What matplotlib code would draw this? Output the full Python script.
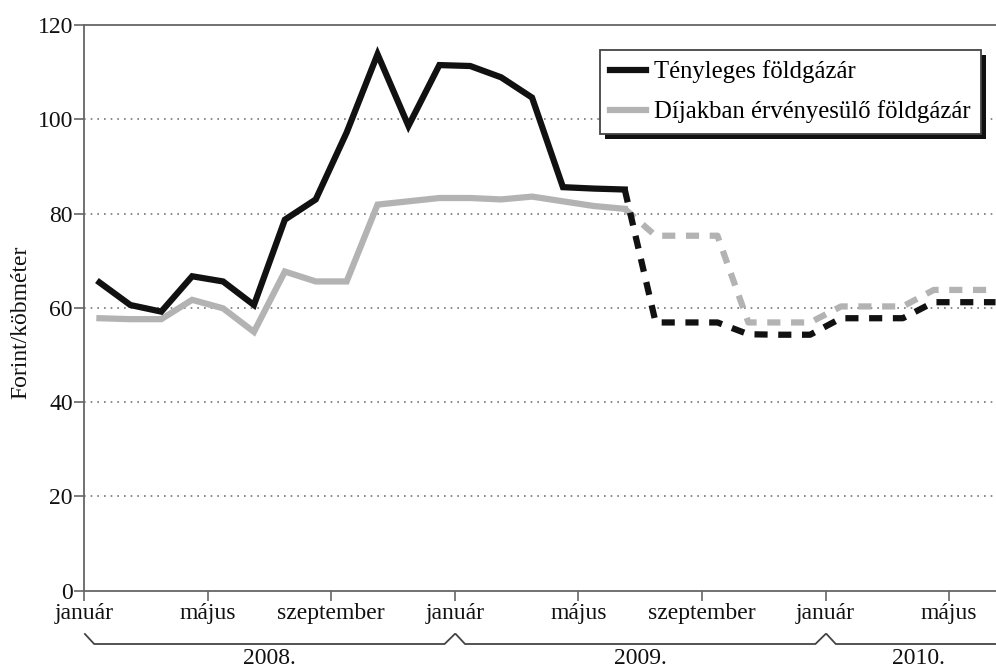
import matplotlib
matplotlib.use("Agg")
import matplotlib.pyplot as plt
from matplotlib.patches import Rectangle
from matplotlib.transforms import IdentityTransform
import numpy as np

# ---- data ----
# monthly values, January 2008 .. June 2010 (plotted at month centres)
actual = [65.4, 60.6, 59.2, 66.7, 65.6, 60.6, 78.7, 83.0, 97.2, 113.8, 98.6, 111.5,
          111.3, 108.9, 104.6, 85.6, 85.3, 85.1,
          56.9, 56.9, 56.9, 54.4, 54.3, 54.3, 57.8, 57.8, 57.8, 61.2, 61.2, 61.2]
tariff = [57.8, 57.6, 57.6, 61.7, 59.9, 54.9, 67.7, 65.6, 65.6, 81.9, 82.6, 83.3,
          83.3, 83.0, 83.6, 82.6, 81.6, 81.0,
          75.3, 75.3, 75.3, 56.9, 56.9, 56.9, 60.3, 60.3, 60.3, 63.8, 63.8, 63.8]
n_solid = 18          # first 18 months are actual data, the rest is forecast (dashed)
tick_months = [0, 4, 8, 12, 16, 20, 24, 28]
tick_labels = ["január", "május", "szeptember", "január", "május",
               "szeptember", "január", "május"]
year_starts = [0, 12, 24, 30]
year_labels = ["2008.", "2009.", "2010."]
series_names = ["Tényleges földgázár", "Díjakban érvényesülő földgázár"]
yticks = [0, 20, 40, 60, 80, 100, 120]

# ---- style ----
plt.rcParams['font.family'] = ['Liberation Serif', 'DejaVu Serif']
FS = 17
BLACK = "#111111"
GREY = "#b3b3b3"
AX_COL = "#666666"

W, H = 996, 671
fig = plt.figure(figsize=(W / 100, H / 100), dpi=100)
ax_left, ax_right, ax_top, ax_bot = 84, 996, 25, 590.7
ax = fig.add_axes([ax_left / W, (H - ax_bot) / H, (ax_right - ax_left) / W, (ax_bot - ax_top) / H])
ax.patch.set_alpha(0)

x = np.arange(len(actual)) + 0.5
lw = 4.5
dash = (0, (2.1, 1.7))

ax.plot(x[:n_solid], tariff[:n_solid], color=GREY, lw=lw, solid_joinstyle='miter', zorder=3)
ax.plot(x[n_solid - 1:], tariff[n_solid - 1:], color=GREY, lw=lw, ls=dash,
        dash_capstyle='butt', zorder=3)
ax.plot(x[:n_solid], actual[:n_solid], color=BLACK, lw=lw, solid_joinstyle='miter', zorder=4)
ax.plot(x[n_solid - 1:], actual[n_solid - 1:], color=BLACK, lw=lw, ls=dash,
        dash_capstyle='butt', zorder=4)

ax.set_xlim(0, (ax_right - ax_left) / 30.9)
ax.set_ylim(0, 120)
ax.set_yticks(yticks)
ax.set_xticks(tick_months)
ax.set_xticklabels(tick_labels)
ax.tick_params(axis='both', labelsize=FS, direction='out', length=7, width=1.2,
               color=AX_COL, labelcolor='#111111')
ax.tick_params(axis='y', pad=1)
ax.tick_params(axis='x', pad=2)

for g in yticks[1:-1]:
    ax.axhline(g, color='#777777', lw=1.2, ls=(0, (1, 3)), zorder=1)

for s in ['left', 'bottom', 'top']:
    ax.spines[s].set_color(AX_COL)
    ax.spines[s].set_linewidth(1.3)
ax.spines['right'].set_visible(False)

ax.set_ylabel("Forint/köbméter", fontsize=FS, color='#111111')
ax.yaxis.set_label_coords((31 - ax_left) / (ax_right - ax_left), (ax_bot - 322) / (ax_bot - ax_top))

# ---- year brackets ----
hpx = ax_bot - ax_top
y_top = (ax_bot - 634) / hpx
y_low = (ax_bot - 644) / hpx
y_txt = (ax_bot - 659) / hpx
trans = ax.get_xaxis_transform()
d = 0.33
xs, ys = [], []
for i in range(len(year_starts) - 1):
    a, b = year_starts[i], year_starts[i + 1]
    xs += [a + 0.03, a + d, b - d, b]
    ys += [y_top, y_low, y_low, y_top]
ax.plot(xs, ys, transform=trans, color='#444444', lw=1.3, clip_on=False,
        solid_joinstyle='miter')
for i, lab in enumerate(year_labels):
    a, b = year_starts[i], year_starts[i + 1]
    ax.text((a + b) / 2, y_txt, lab, transform=trans, ha='center', va='center',
            fontsize=FS, color='#111111', clip_on=False)

# ---- legend with hard black shadow ----
h1 = plt.Line2D([], [], color=BLACK, lw=lw)
h2 = plt.Line2D([], [], color=GREY, lw=lw)
leg = fig.legend([h1, h2], series_names, loc='upper left',
                 bbox_to_anchor=(600 / W, 1 - 50 / H), bbox_transform=fig.transFigure,
                 fontsize=17.8, frameon=True, fancybox=False, framealpha=1,
                 edgecolor='#444444', borderpad=0.42, handlelength=1.45,
                 handletextpad=0.3, labelspacing=0.68, borderaxespad=0)
leg.get_frame().set_linewidth(1.3)
leg.set_zorder(10)

fig.canvas.draw()
bb = leg.get_frame().get_window_extent(fig.canvas.get_renderer())
shadow = Rectangle((bb.x0 + 5, bb.y0 - 5), bb.width, bb.height, transform=IdentityTransform(),
                   facecolor='#111111', edgecolor='none', zorder=9)
fig.add_artist(shadow)

fig.savefig("out.png", dpi=100)
